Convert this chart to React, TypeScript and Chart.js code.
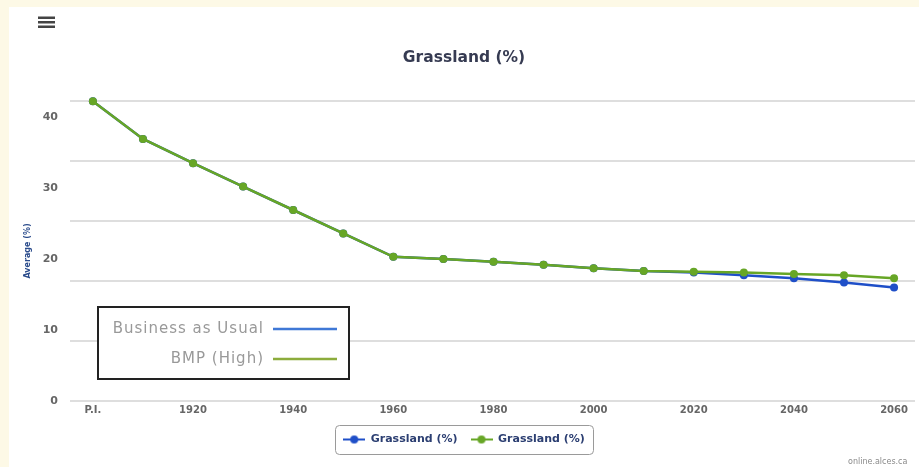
import React, { useEffect, useRef } from 'react';
import { Chart, registerables } from 'chart.js';

Chart.register(...registerables);

// ---- data ----
const periodLabels = ['P.I.', '1910', '1920', '1930', '1940', '1950', '1960', '1970', '1980', '1990', '2000', '2010', '2020', '2030', '2040', '2050', '2060'];
const periodYears = [1900, 1910, 1920, 1930, 1940, 1950, 1960, 1970, 1980, 1990, 2000, 2010, 2020, 2030, 2040, 2050, 2060];
const businessAsUsual = [42.2, 36.9, 33.5, 30.2, 26.9, 23.6, 20.3, 20.0, 19.6, 19.2, 18.7, 18.3, 18.1, 17.7, 17.3, 16.7, 16.0];
const bmpHigh = [42.2, 36.9, 33.5, 30.2, 26.9, 23.6, 20.3, 20.0, 19.6, 19.2, 18.7, 18.3, 18.2, 18.1, 17.9, 17.7, 17.3];
const seriesNames = ['Grassland (%)', 'Grassland (%)'];
const seriesColors = ['#1f4fc8', '#67a626'];
const yTickValues = [0, 10, 20, 30, 40];
const xTickYears = [1900, 1920, 1940, 1960, 1980, 2000, 2020, 2040, 2060];
const overlayLabels = ['Business as Usual', 'BMP (High)'];
const overlayColors = ['#3f78d6', '#8cac3c'];
const chartTitle = 'Grassland (%)';
const yAxisTitle = 'Average (%)';
const creditText = 'online.alces.ca';

const Y_MAX = 42.25;
const FONT = '"DejaVu Sans", Verdana, sans-serif';

function makeMarker(color: string): HTMLCanvasElement {
  const c = document.createElement('canvas');
  c.width = 22;
  c.height = 10;
  const ctx = c.getContext('2d')!;
  ctx.strokeStyle = color;
  ctx.lineWidth = 2;
  ctx.beginPath();
  ctx.moveTo(0, 5);
  ctx.lineTo(22, 5);
  ctx.stroke();
  ctx.fillStyle = color;
  ctx.beginPath();
  ctx.arc(11, 5, 4, 0, Math.PI * 2);
  ctx.fill();
  return c;
}

const decorPlugin = {
  id: 'decor',
  afterDraw(chart: any) {
    const ctx = chart.ctx as CanvasRenderingContext2D;
    ctx.save();
    // hamburger menu icon
    ctx.fillStyle = '#444444';
    for (let i = 0; i < 3; i++) {
      ctx.fillRect(29, 9.5 + i * 4.5, 17, 2.5);
    }

    // legend border
    const lg = chart.legend;
    if (lg && lg.legendHitBoxes && lg.legendHitBoxes.length) {
      let l = Infinity, r = -Infinity, t = Infinity, b = -Infinity;
      for (const h of lg.legendHitBoxes) {
        l = Math.min(l, h.left);
        r = Math.max(r, h.left + h.width);
        t = Math.min(t, h.top);
        b = Math.max(b, h.top + h.height);
      }
      const cy = (t + b) / 2;
      ctx.strokeStyle = '#9a9a9a';
      ctx.lineWidth = 1;
      ctx.beginPath();
      (ctx as any).roundRect(Math.round(l - 8) + 0.5, Math.round(cy - 14.5) + 0.5, Math.round(r - l + 16), 29, 4);
      ctx.stroke();
    }

    // overlay key box
    const bx = 89, by = 300, bw = 251, bh = 72;
    ctx.fillStyle = '#ffffff';
    ctx.fillRect(bx, by, bw, bh);
    ctx.strokeStyle = '#222222';
    ctx.lineWidth = 2;
    ctx.strokeRect(bx, by, bw, bh);
    ctx.font = '15px ' + FONT;
    (ctx as any).letterSpacing = '1px';
    ctx.textAlign = 'right';
    ctx.textBaseline = 'middle';
    const rows = [322, 352];
    overlayLabels.forEach((txt, i) => {
      ctx.fillStyle = '#999999';
      ctx.fillText(txt, 255, rows[i]);
      ctx.strokeStyle = overlayColors[i];
      ctx.lineWidth = 2.5;
      ctx.beginPath();
      ctx.moveTo(264, rows[i]);
      ctx.lineTo(328, rows[i]);
      ctx.stroke();
    });
    (ctx as any).letterSpacing = '0px';

    // credits
    ctx.font = '8px ' + FONT;
    ctx.fillStyle = '#8a8a8a';
    ctx.textAlign = 'left';
    ctx.fillText(creditText, 839, 455);
    ctx.restore();
  },
};

export default function App() {
  const ref = useRef<HTMLCanvasElement | null>(null);

  useEffect(() => {
    const canvas = ref.current;
    if (!canvas) return;
    const markers = seriesColors.map(makeMarker);

    const chart = new Chart(canvas, {
      type: 'line',
      data: {
        datasets: [
          {
            label: seriesNames[0],
            data: periodYears.map((x, i) => ({ x, y: businessAsUsual[i] })),
            borderColor: seriesColors[0],
            backgroundColor: seriesColors[0],
            pointBackgroundColor: seriesColors[0],
            pointBorderWidth: 0,
            pointRadius: 4,
            borderWidth: 2.5,
            tension: 0,
            clip: false as any,
            order: 1,
          },
          {
            label: seriesNames[1],
            data: periodYears.map((x, i) => ({ x, y: bmpHigh[i] })),
            borderColor: seriesColors[1],
            backgroundColor: seriesColors[1],
            pointBackgroundColor: seriesColors[1],
            pointBorderWidth: 0,
            pointRadius: 4,
            borderWidth: 2.5,
            tension: 0,
            clip: false as any,
            order: 0,
          },
        ],
      },
      options: {
        responsive: false,
        animation: false,
        layout: { padding: { top: 0, left: 0, right: 0, bottom: 12 } },
        plugins: {
          title: {
            display: true,
            text: chartTitle,
            color: '#363b52',
            font: { family: FONT, size: 15.5, weight: 'bold' },
            padding: { top: 41.7, bottom: 33.7 },
          },
          legend: {
            position: 'bottom',
            labels: {
              usePointStyle: true,
              pointStyleWidth: 22,
              padding: 13,
              color: '#2c3f72',
              font: { family: FONT, size: 11, weight: 'bold' },
              sort: (a: any, b: any) => a.datasetIndex - b.datasetIndex,
              generateLabels: (ch: any) =>
                (Chart.defaults.plugins.legend.labels.generateLabels as any)(ch).map((it: any) => ({
                  ...it,
                  pointStyle: markers[it.datasetIndex],
                  fontColor: '#2c3f72',
                })),
            },
          },
          tooltip: { enabled: false },
        },
        scales: {
          x: {
            type: 'linear',
            position: 'bottom',
            min: 1895.43,
            max: 2064.18,
            grid: { display: false, drawTicks: false },
            border: { display: false },
            afterBuildTicks: (s: any) => {
              s.ticks = xTickYears.map((v) => ({ value: v }));
            },
            afterFit: (s: any) => {
              s.height = 20;
            },
            ticks: {
              padding: 3,
              autoSkip: false,
              maxRotation: 0,
              color: '#666666',
              font: { family: FONT, size: 10, weight: 'bold' },
              callback: (v: any) => {
                const idx = periodYears.indexOf(Number(v));
                return idx >= 0 ? periodLabels[idx] : '';
              },
            },
          },
          y: {
            type: 'linear',
            position: 'left',
            min: 0,
            max: Y_MAX,
            grid: { display: false, drawTicks: false },
            border: { display: false },
            afterBuildTicks: (s: any) => {
              s.ticks = yTickValues.map((v) => ({ value: v }));
            },
            afterFit: (s: any) => {
              s.width = 61;
            },
            ticks: {
              padding: 12,
              color: '#666666',
              font: { family: FONT, size: 11, weight: 'bold' },
            },
            title: {
              display: true,
              text: yAxisTitle,
              color: '#2b4c8c',
              font: { family: FONT, size: 8, weight: 'bold' },
              padding: { top: 14.2, bottom: 0 },
            },
          },
          yGrid: {
            type: 'linear',
            position: 'right',
            min: 0,
            max: Y_MAX,
            grid: { color: '#dedede', lineWidth: 2, drawTicks: false },
            border: { display: false },
            afterBuildTicks: (s: any) => {
              const n = 5;
              const arr = [];
              for (let i = 0; i <= n; i++) arr.push({ value: (s.max - s.min) * i / n + s.min });
              s.ticks = arr;
            },
            afterFit: (s: any) => {
              s.width = 0;
            },
            ticks: { display: false },
          },
        },
      },
      plugins: [decorPlugin],
    } as any);

    return () => chart.destroy();
  }, []);

  return (
    <div style={{ position: 'fixed', left: 0, top: 0, width: 919, height: 467, background: '#fdf9e6', overflow: 'hidden' }}>
      <div style={{ position: 'absolute', left: 9, top: 7, width: 910, height: 460, background: '#ffffff' }}>
        <canvas ref={ref} width={910} height={460} style={{ display: 'block' }} />
      </div>
    </div>
  );
}
